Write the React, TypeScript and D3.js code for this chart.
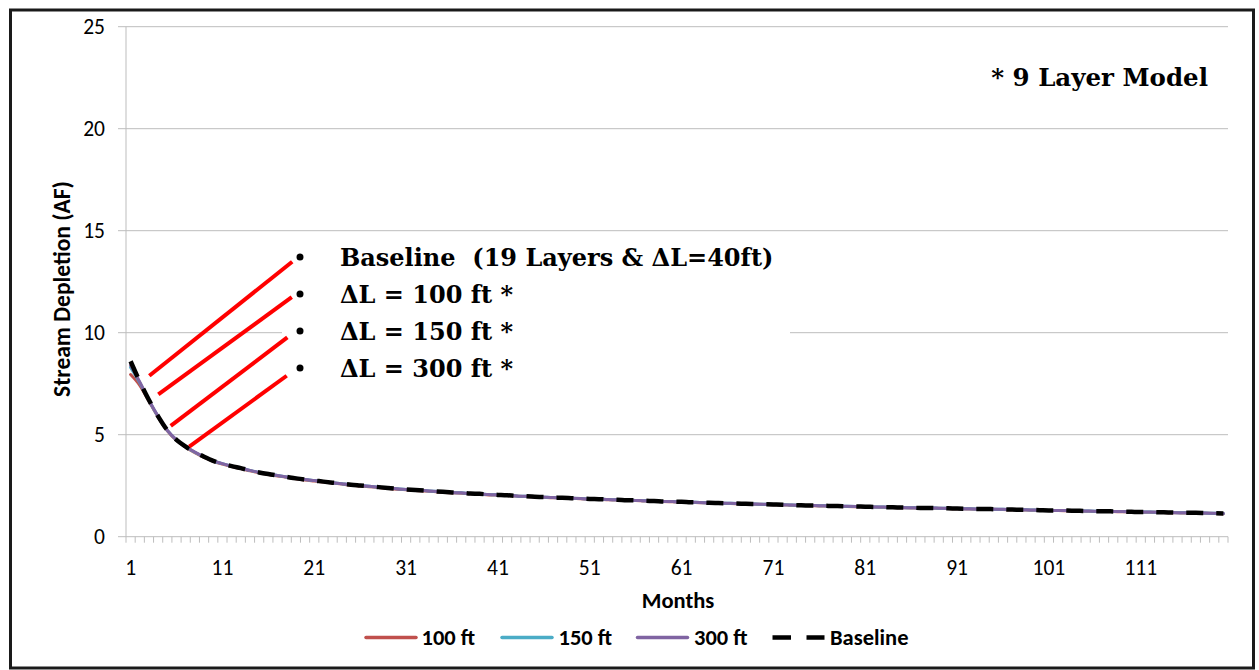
import React from "react";
import * as d3 from "d3";

// ---------- data ----------
const months: number[] = d3.range(1, 121);
const xTickLabels: number[] = [1, 11, 21, 31, 41, 51, 61, 71, 81, 91, 101, 111];
const yTicks: number[] = [0, 5, 10, 15, 20, 25];

const ft100: number[] = [
  7.95, 7.42, 6.64, 5.86, 5.19, 4.72, 4.39, 4.12, 3.89, 3.70,
  3.56, 3.44, 3.34, 3.23, 3.13, 3.05, 2.98, 2.91, 2.84, 2.78,
  2.73, 2.68, 2.63, 2.58, 2.53, 2.49, 2.45, 2.41, 2.37, 2.33,
  2.30, 2.27, 2.24, 2.21, 2.18, 2.15, 2.13, 2.10, 2.08, 2.05,
  2.04, 2.02, 1.99, 1.97, 1.95, 1.93, 1.91, 1.90, 1.88, 1.86,
  1.84, 1.83, 1.81, 1.80, 1.78, 1.77, 1.75, 1.74, 1.72, 1.71,
  1.70, 1.68, 1.67, 1.65, 1.64, 1.63, 1.62, 1.60, 1.59, 1.58,
  1.57, 1.56, 1.54, 1.53, 1.52, 1.51, 1.50, 1.49, 1.48, 1.47,
  1.46, 1.45, 1.44, 1.43, 1.42, 1.41, 1.40, 1.40, 1.39, 1.38,
  1.37, 1.36, 1.35, 1.35, 1.34, 1.33, 1.32, 1.31, 1.30, 1.29,
  1.28, 1.28, 1.27, 1.26, 1.25, 1.24, 1.24, 1.23, 1.22, 1.21,
  1.20, 1.20, 1.19, 1.18, 1.17, 1.16, 1.16, 1.15, 1.14, 1.13,
];

const ft150: number[] = [
  8.30, 7.55, 6.68, 5.89, 5.21, 4.74, 4.41, 4.14, 3.91, 3.71,
  3.58, 3.46, 3.36, 3.25, 3.15, 3.07, 3.00, 2.93, 2.86, 2.80,
  2.75, 2.70, 2.65, 2.60, 2.55, 2.51, 2.47, 2.43, 2.39, 2.35,
  2.32, 2.29, 2.26, 2.23, 2.20, 2.17, 2.15, 2.12, 2.10, 2.07,
  2.05, 2.03, 2.00, 1.98, 1.96, 1.94, 1.92, 1.91, 1.89, 1.87,
  1.85, 1.84, 1.82, 1.81, 1.79, 1.78, 1.76, 1.75, 1.73, 1.72,
  1.71, 1.69, 1.68, 1.66, 1.65, 1.64, 1.63, 1.61, 1.60, 1.59,
  1.58, 1.57, 1.55, 1.54, 1.53, 1.52, 1.51, 1.50, 1.49, 1.48,
  1.47, 1.46, 1.45, 1.44, 1.43, 1.42, 1.41, 1.41, 1.40, 1.39,
  1.38, 1.37, 1.36, 1.36, 1.35, 1.34, 1.33, 1.32, 1.31, 1.30,
  1.29, 1.29, 1.28, 1.27, 1.26, 1.25, 1.25, 1.24, 1.23, 1.22,
  1.21, 1.21, 1.20, 1.19, 1.18, 1.17, 1.17, 1.16, 1.15, 1.14,
];

const ft300: number[] = [
  8.40, 7.58, 6.69, 5.90, 5.22, 4.75, 4.42, 4.15, 3.92, 3.72,
  3.58, 3.46, 3.36, 3.25, 3.15, 3.07, 3.00, 2.93, 2.86, 2.80,
  2.75, 2.70, 2.65, 2.60, 2.55, 2.51, 2.47, 2.43, 2.39, 2.35,
  2.32, 2.29, 2.26, 2.23, 2.20, 2.17, 2.15, 2.12, 2.10, 2.07,
  2.05, 2.03, 2.00, 1.98, 1.96, 1.94, 1.92, 1.91, 1.89, 1.87,
  1.85, 1.84, 1.82, 1.81, 1.79, 1.78, 1.76, 1.75, 1.73, 1.72,
  1.71, 1.69, 1.68, 1.66, 1.65, 1.64, 1.63, 1.61, 1.60, 1.59,
  1.58, 1.57, 1.55, 1.54, 1.53, 1.52, 1.51, 1.50, 1.49, 1.48,
  1.47, 1.46, 1.45, 1.44, 1.43, 1.42, 1.41, 1.41, 1.40, 1.39,
  1.38, 1.37, 1.36, 1.36, 1.35, 1.34, 1.33, 1.32, 1.31, 1.30,
  1.29, 1.29, 1.28, 1.27, 1.26, 1.25, 1.25, 1.24, 1.23, 1.22,
  1.21, 1.21, 1.20, 1.19, 1.18, 1.17, 1.17, 1.16, 1.15, 1.14,
];

const baseline: number[] = [
  8.60, 7.60, 6.70, 5.90, 5.22, 4.75, 4.42, 4.15, 3.92, 3.72,
  3.58, 3.46, 3.36, 3.25, 3.15, 3.07, 3.00, 2.93, 2.86, 2.80,
  2.75, 2.70, 2.65, 2.60, 2.55, 2.51, 2.47, 2.43, 2.39, 2.35,
  2.32, 2.29, 2.26, 2.23, 2.20, 2.17, 2.15, 2.12, 2.10, 2.07,
  2.05, 2.03, 2.00, 1.98, 1.96, 1.94, 1.92, 1.91, 1.89, 1.87,
  1.85, 1.84, 1.82, 1.81, 1.79, 1.78, 1.76, 1.75, 1.73, 1.72,
  1.71, 1.69, 1.68, 1.66, 1.65, 1.64, 1.63, 1.61, 1.60, 1.59,
  1.58, 1.57, 1.55, 1.54, 1.53, 1.52, 1.51, 1.50, 1.49, 1.48,
  1.47, 1.46, 1.45, 1.44, 1.43, 1.42, 1.41, 1.41, 1.40, 1.39,
  1.38, 1.37, 1.36, 1.36, 1.35, 1.34, 1.33, 1.32, 1.31, 1.30,
  1.29, 1.29, 1.28, 1.27, 1.26, 1.25, 1.25, 1.24, 1.23, 1.22,
  1.21, 1.21, 1.20, 1.19, 1.18, 1.17, 1.17, 1.16, 1.15, 1.14,
];

const seriesNames: string[] = ["100 ft", "150 ft", "300 ft", "Baseline"];
const seriesColors: string[] = ["#C0504D", "#4BACC6", "#8064A2", "#000000"];

// annotation pointer lines, in data units [month, value]
const pointerStarts: [number, number][] = [[3.04, 7.89], [4.02, 6.98], [5.37, 5.43], [7.39, 4.41]];
const pointerEnds: [number, number][] = [[18.6, 13.48], [18.55, 11.74], [18.07, 9.77], [18.0, 7.89]];
const noteLines: string[] = [
  "Baseline  (19 Layers & \u0394L=40ft)",
  "\u0394L = 100 ft *",
  "\u0394L = 150 ft *",
  "\u0394L = 300 ft *",
];
const cornerNote = "* 9 Layer Model";

// ---------- layout ----------
const W = 1259;
const H = 670;
const PL = 126, PR = 1228, PT = 26.7, PB = 536.7;
const SANS = "Carlito, Calibri, Lato, 'Open Sans', sans-serif";
const SERIF = "'DejaVu Serif', 'Liberation Serif', serif";
const GRID = "#BDBDBD";

export default function App() {
  const x = d3.scaleLinear().domain([0.5, months.length + 0.5]).range([PL, PR]);
  const y = d3.scaleLinear().domain([0, 25]).range([PB, PT]);

  const line = d3
    .line<number>()
    .x((_, i) => x(months[i]))
    .y((v) => y(v))
    .curve(d3.curveMonotoneX);

  const allSeries = [ft100, ft150, ft300, baseline];
  const boundaries = d3.range(0, months.length + 1).map((k) => x(k + 0.5));

  const legendItems = [
    { lx: 366, tx: 421.5 },
    { lx: 502, tx: 558.5 },
    { lx: 637.5, tx: 694 },
    { lx: 772.5, tx: 830 },
  ];
  const legendY = 637.5;

  return (
    <svg
      width={W}
      height={H}
      style={{ position: "absolute", left: 0, top: 0, background: "#fff" }}
    >
      <rect x={0} y={0} width={W} height={H} fill="#fff" />
      {/* outer frame */}
      <rect x={10.5} y={10} width={1243} height={658} fill="none" stroke="#1a1a1a" strokeWidth={3} />

      {/* gridlines */}
      {yTicks.map((t) => (
        <line key={"g" + t} x1={118} x2={PR} y1={y(t)} y2={y(t)} stroke={GRID} strokeWidth={1} />
      ))}
      {/* y axis */}
      <line x1={PL} x2={PL} y1={PT} y2={PB} stroke={GRID} strokeWidth={1} />
      {/* x ticks */}
      {boundaries.map((bx, k) => (
        <line key={"t" + k} x1={bx} x2={bx} y1={PB} y2={PB + 6} stroke={GRID} strokeWidth={1} />
      ))}

      {/* y tick labels */}
      {yTicks.map((t) => (
        <text
          key={"yl" + t}
          x={105}
          y={y(t)}
          dy="0.35em"
          textAnchor="end"
          fontFamily={SANS}
          fontSize={21.5}
          fill="#000"
        >
          {t}
        </text>
      ))}
      {/* x tick labels */}
      {xTickLabels.map((m) => (
        <text
          key={"xl" + m}
          x={x(m)}
          y={575}
          textAnchor="middle"
          fontFamily={SANS}
          fontSize={21.5}
          fill="#000"
        >
          {m}
        </text>
      ))}

      {/* axis titles */}
      <text x={x(60.5) + 1} y={608} textAnchor="middle" fontFamily={SANS} fontSize={22.5} fontWeight="bold">
        Months
      </text>
      <text
        transform={`translate(70, 289) rotate(-90)`}
        textAnchor="middle"
        fontFamily={SANS}
        fontSize={23.5}
        fontWeight="bold"
      >
        Stream Depletion (AF)
      </text>

      {/* white box behind the note text */}
      <rect x={282} y={240} width={508} height={150} fill="#fff" />

      {/* series */}
      {allSeries.map((s, i) => (
        <path
          key={"s" + i}
          d={line(s) || ""}
          fill="none"
          stroke={seriesColors[i]}
          strokeWidth={i === 3 ? 4.5 : 3}
          strokeDasharray={i === 3 ? "17 13" : undefined}
          strokeLinejoin="round"
          strokeLinecap={i === 3 ? "butt" : "round"}
        />
      ))}

      {/* pointer lines */}
      {pointerStarts.map((p, i) => (
        <line
          key={"p" + i}
          x1={x(p[0])}
          y1={y(p[1])}
          x2={x(pointerEnds[i][0])}
          y2={y(pointerEnds[i][1])}
          stroke="#FF0000"
          strokeWidth={4}
        />
      ))}

      {/* note text */}
      {noteLines.map((t, i) => (
        <g key={"n" + i}>
          <circle cx={300} cy={257 + i * 37} r={3.5} fill="#000" />
          <text
            x={340}
            y={266 + i * 37}
            fontFamily={SERIF}
            fontSize={24}
            fontWeight="bold"
            fill="#000"
            style={{ whiteSpace: "pre" }}
          >
            {t}
          </text>
        </g>
      ))}

      <text
        x={1208}
        y={86}
        textAnchor="end"
        fontFamily={SERIF}
        fontSize={24.5}
        fontWeight="bold"
        fill="#000"
      >
        {cornerNote}
      </text>

      {/* legend */}
      {legendItems.map((it, i) => (
        <g key={"l" + i}>
          {i < 3 ? (
            <line
              x1={it.lx}
              x2={it.lx + 50}
              y1={legendY}
              y2={legendY}
              stroke={seriesColors[i]}
              strokeWidth={3.5}
              strokeLinecap="round"
            />
          ) : (
            <line
              x1={it.lx}
              x2={it.lx + 52}
              y1={legendY}
              y2={legendY}
              stroke={seriesColors[i]}
              strokeWidth={4.5}
              strokeDasharray="18.5 15.5"
            />
          )}
          <text
            x={it.tx}
            y={legendY}
            dy="0.35em"
            fontFamily={SANS}
            fontSize={22.5}
            fontWeight="bold"
            fill="#000"
          >
            {seriesNames[i]}
          </text>
        </g>
      ))}
    </svg>
  );
}
